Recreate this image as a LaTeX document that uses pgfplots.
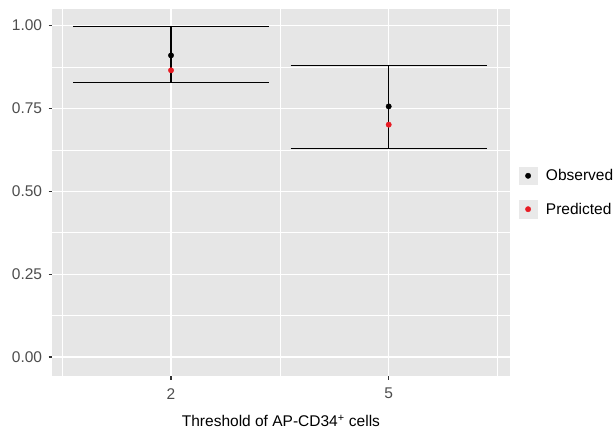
\documentclass[border=0pt]{standalone}
\usepackage{fontspec}
\setmainfont{Liberation Sans}
\usepackage{pgfplots}
\pgfplotsset{compat=1.18}

\definecolor{panelbg}{RGB}{230,230,230}
\definecolor{keybg}{RGB}{233,233,233}
\definecolor{ticktext}{RGB}{77,77,77}
\definecolor{tickmark}{RGB}{51,51,51}
\definecolor{predred}{RGB}{232,28,36}

\begin{document}
\begin{tikzpicture}
\begin{axis}[
    scale only axis,
    width=457.1bp, height=367bp,
    xmin=0.455, xmax=2.555,
    ymin=-0.0574, ymax=1.050,
    axis background/.style={fill=panelbg},
    axis line style={draw=none},
    xtick={1,2}, xticklabels={2,5},
    ytick={0,0.25,0.5,0.75,1},
    minor xtick={0.5,1.5,2.5},
    minor ytick={0.125,0.375,0.625,0.875},
    grid=both,
    major grid style={white, line width=1.1bp},
    minor grid style={white, line width=0.55bp},
    tick align=outside,
    xtick pos=left, ytick pos=left,
    major tick length=3.7bp, minor tick length=0pt,
    tick style={tickmark, line width=1.1bp},
    /pgf/number format/fixed,
    /pgf/number format/fixed zerofill,
    /pgf/number format/precision=2,
    /pgf/number format/assume math mode=true,
    ticklabel style={font=\fontsize{15.5bp}{18bp}\selectfont, text=ticktext},
    yticklabel style={anchor=east, inner sep=0pt, xshift=-6.4bp},
    xticklabel style={anchor=north, inner sep=0pt, yshift=-8.3bp},
    xlabel={Threshold of AP-CD34\textsuperscript{+} cells},
    xlabel style={font=\fontsize{15.5bp}{18bp}\selectfont, at={(axis description cs:0.5,0)}, anchor=base, yshift=-50.5bp, inner sep=0pt},
    legend style={at={(axis description cs:1,0.5)}, anchor=west, xshift=9.5bp,
        draw=none, fill=none, inner sep=0pt, row sep=15.6bp, column sep=0pt,
        font=\fontsize{15.5bp}{18bp}\selectfont},
    legend cell align=left,
    legend image code/.code={
        \fill[keybg] (-8.7bp,-8.7bp) rectangle (8.7bp,8.7bp);
        \draw[#1] plot coordinates {(0bp,0bp)};
    },
]
% error bars
\addplot[black, line width=1.1bp, forget plot] coordinates {(1,0.827) (1,0.996)};
\addplot[black, line width=1.1bp, forget plot] coordinates {(0.55,0.996) (1.45,0.996)};
\addplot[black, line width=1.1bp, forget plot] coordinates {(0.55,0.827) (1.45,0.827)};
\addplot[black, line width=1.1bp, forget plot] coordinates {(2,0.630) (2,0.880)};
\addplot[black, line width=1.1bp, forget plot] coordinates {(1.55,0.880) (2.45,0.880)};
\addplot[black, line width=1.1bp, forget plot] coordinates {(1.55,0.630) (2.45,0.630)};
% points
\addplot[only marks, mark=*, mark size=2.7bp, mark options={draw=black, fill=black}] coordinates {(1,0.910) (2,0.756)};
\addplot[only marks, mark=*, mark size=2.7bp, mark options={draw=predred, fill=predred}] coordinates {(1,0.865) (2,0.701)};
\legend{\hspace{7bp}Observed,\hspace{7bp}Predicted}
\end{axis}
\pgfresetboundingbox
\useasboundingbox ([shift={(-52.4bp,-53bp)}]current axis.south west) rectangle ([shift={(104.5bp,9bp)}]current axis.north east);
\end{tikzpicture}
\end{document}
